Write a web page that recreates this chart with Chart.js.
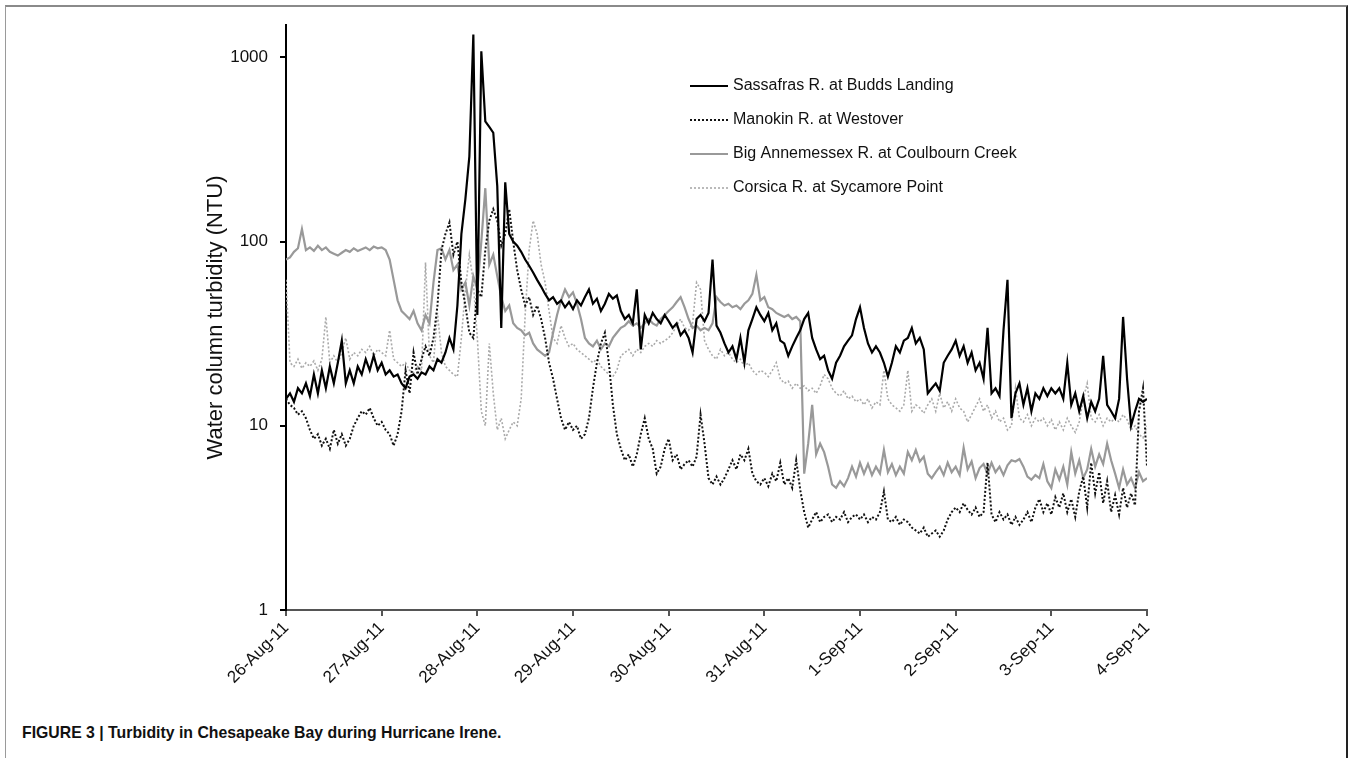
<!DOCTYPE html>
<html>
<head>
<meta charset="utf-8">
<script src="https://cdn.jsdelivr.net/npm/chart.js@4.4.0/dist/chart.umd.min.js"></script>
<style>
  html, body { margin: 0; padding: 0; background: #fff; }
  #frame {
    position: absolute; left: 5px; top: 5px; width: 1340px; height: 760px;
    border-top: 2px solid #8a8a8a; border-left: 1px solid #9a9a9a; border-right: 2px solid #222;
  }
  #wrap { position: absolute; left: 0; top: 0; width: 1349px; height: 700px; }
  #caption {
    position: absolute; left: 22px; top: 723px;
    font-family: "Liberation Sans", Arial, sans-serif;
    font-weight: bold; font-size: 17px; color: #111;
    transform: scaleX(0.93); transform-origin: left top; white-space: nowrap;
  }
</style>
</head>
<body>
<div id="frame"></div>
<div id="wrap"><canvas id="turbidityChart" width="1349" height="700"></canvas></div>
<div id="caption">FIGURE 3 | Turbidity in Chesapeake Bay during Hurricane Irene.</div>
<script>
// hourly readings from 26-Aug-11 00:00 to 4-Sep-11 00:00 (NTU)
const dayLabels = ['26-Aug-11', '27-Aug-11', '28-Aug-11', '29-Aug-11', '30-Aug-11',
  '31-Aug-11', '1-Sep-11', '2-Sep-11', '3-Sep-11', '4-Sep-11'];
const yTicks = [1, 10, 100, 1000];

const seriesNames = ['Sassafras R. at Budds Landing', 'Manokin R. at Westover',
  'Big Annemessex R. at Coulbourn Creek', 'Corsica R. at Sycamore Point'];

const sassafras = [
  14, 15, 13.5, 16, 15, 17, 14.5, 19, 15, 20, 16, 21, 17, 22, 29, 17, 20, 17, 21, 19, 23, 20, 24, 20,
  22, 19, 20, 18.5, 19, 17, 16, 18.5, 19, 18, 19.5, 19, 21, 20, 23, 22, 25, 30, 26, 45, 110, 170, 290, 1330,
  40, 1080, 450, 420, 390, 200, 34, 210, 110, 100, 95, 88, 80, 74, 68, 62, 57, 52, 48, 50, 46, 48, 44, 47,
  43, 48, 45, 50, 55, 46, 49, 42, 46, 52, 49, 51, 42, 38, 40, 36, 55, 26, 40, 36, 41, 38, 36, 40,
  37, 34, 36, 31, 33, 30, 25, 38, 40, 37, 41, 80, 35, 32, 28, 25, 27, 23, 30, 22, 33, 38, 44, 40,
  37, 41, 33, 36, 29, 28, 24, 27, 30, 33, 38, 41, 30, 26, 23, 24, 20, 18, 22, 24, 27, 29, 31, 38,
  44, 34, 28, 25, 27, 25, 22, 18.5, 22, 27, 25, 29, 30, 34, 28, 30, 26, 15, 16, 17, 15.5, 22, 24, 26,
  29, 24, 27, 22, 25, 20, 22, 18, 34, 15, 16, 14.5, 33, 62, 11, 15, 17, 13, 16, 12, 15, 14, 16, 14.5,
  16, 15, 16, 14, 22, 13, 15, 12, 14.5, 11, 13.5, 12, 14, 24, 13, 12, 11, 14, 39, 18, 10, 12, 14, 13.5,
  14
];

const manokin = [
  14, 13, 12.5, 11.5, 12, 11, 9.5, 8.5, 9, 7.8, 8.5, 7.5, 9.5, 8, 9, 7.8, 8.5, 10, 11, 12, 11.5, 12.5, 11, 10,
  10.5, 9.5, 9, 7.8, 9, 12, 20, 15, 25, 19, 23, 27, 24, 30, 45, 90, 110, 127, 85, 100, 60, 45, 32, 30,
  55, 50, 90, 130, 150, 130, 95, 110, 150, 100, 70, 55, 45, 50, 40, 45, 38, 30, 22, 18, 14, 11, 9.5, 10.5,
  9.5, 10, 8.5, 9, 11, 16, 22, 28, 32, 22, 13, 9, 7.5, 6.5, 7, 6, 7, 9, 11, 8.5, 7.5, 5.5, 6, 7.5,
  8.5, 6.5, 7, 5.8, 6.2, 6.5, 6, 6.8, 11.5, 8, 5.2, 4.8, 5.3, 4.8, 5.2, 5.8, 6.5, 5.8, 7, 6.5, 7.5, 5.5, 5, 4.8,
  5.2, 4.7, 5.5, 5, 6.3, 4.8, 5.2, 4.6, 6.5, 4.5, 3.4, 2.8, 3.1, 3.4, 3.0, 3.2, 3.3, 3.0, 3.2, 3.1, 3.4, 3.0, 3.2, 3.3,
  3.1, 3.3, 3.0, 3.2, 3.1, 3.4, 4.4, 3.1, 3.0, 3.2, 2.9, 3.1, 3.0, 2.8, 2.7, 2.6, 2.8, 2.5, 2.6, 2.7, 2.5, 2.7, 3.1, 3.4,
  3.6, 3.4, 3.8, 3.5, 3.3, 3.6, 3.2, 3.4, 6.3, 3.3, 3.0, 3.4, 3.1, 3.3, 2.9, 3.2, 2.9, 3.1, 3.4, 3.0, 3.6, 4.0, 3.4, 3.8,
  3.3, 4.1, 3.6, 4.3, 3.4, 4.0, 3.2, 4.4, 5.3, 3.6, 6.3, 4.3, 5.6, 3.8, 5.0, 3.4, 4.2, 3.3, 4.6, 3.6, 4.3, 3.7, 12, 16,
  6
];

const bigAnnemessex = [
  80, 82, 88, 92, 117, 90, 93, 89, 95, 90, 93, 88, 86, 84, 87, 90, 88, 92, 89, 91, 93, 90, 94, 92,
  93, 90, 80, 62, 48, 42, 40, 38, 42, 36, 33, 40, 36, 60, 90, 92, 80, 90, 70, 75, 55, 60, 45, 65,
  55, 100, 195, 75, 85, 65, 50, 42, 45, 36, 34, 33, 31, 32, 28, 26, 25, 24, 25, 32, 40, 48, 55, 50,
  53, 46, 38, 30, 28, 27, 29, 26, 28, 27, 30, 32, 34, 35, 37, 35, 36, 34, 36, 38, 36, 35, 38, 40,
  42, 44, 47, 50, 44, 38, 34, 35, 33, 34, 33, 36, 50, 47, 45, 46, 44, 45, 43, 46, 48, 52, 66, 48,
  50, 44, 43, 41, 40, 39, 40, 38, 39, 37, 5.5, 8, 13, 7, 8, 7.2, 6, 4.8, 4.6, 5, 4.7, 5.2, 6, 5.3,
  6.3, 5.5, 6.2, 5.4, 6, 5.5, 7.4, 5.6, 6.2, 5.4, 6, 5.5, 7.2, 6.5, 7.4, 6.4, 6.8, 5.5, 5.2, 5.6, 6, 5.4, 6.3, 5.6,
  6, 5.4, 7.6, 5.8, 6.4, 5.2, 5.9, 6.2, 5.5, 6.3, 5.6, 6, 5.4, 6.1, 6.5, 6.4, 6.6, 6, 5.3, 5.1, 5.4, 5.2, 6.2, 5,
  4.6, 5.8, 5.1, 6, 4.8, 7.2, 5.5, 6.5, 5.2, 5.8, 7.5, 6, 7, 6.2, 8, 6.5, 5.5, 4.6, 5.8, 4.8, 5.2, 4.6, 5.6, 5,
  5.2
];

const corsica = [
  62, 22, 21, 23, 20.5, 22, 21, 22.5, 20, 23, 39, 22, 24, 22, 25, 30, 23, 25, 24, 26, 25, 27, 24, 26,
  25, 24, 33, 23, 22, 21, 22, 20, 19.5, 21, 20, 77, 24, 22, 41, 25, 21, 20, 19, 18.5, 30, 55, 85, 60,
  30, 12, 10, 28, 15, 9.5, 11, 8.5, 9.5, 10.5, 10, 14, 40, 90, 130, 110, 75, 60, 42, 30, 28, 35, 30, 27,
  28, 26, 25, 24, 23, 22, 23, 21, 20, 19, 18.5, 20, 24, 25, 26, 24, 26, 25, 27, 28, 27, 29, 28, 29,
  30, 32, 35, 38, 34, 33, 36, 60, 55, 29, 26, 24, 23, 26, 24, 25, 23, 22, 23, 21, 22, 20, 19, 20,
  19.5, 18.5, 20, 22, 18, 17, 17.5, 16, 17, 16, 16.5, 15.5, 16, 15, 16.5, 19, 18, 16, 15, 14.5, 15.5, 14, 14.5, 13.5,
  14, 13, 14, 12.5, 13.5, 13, 20, 14, 13, 12.5, 12, 13, 20, 12, 13, 12.5, 11.7, 13, 14, 12, 15, 12.5, 13.5, 12,
  14, 12.5, 12, 10.5, 11.5, 12.7, 14, 12, 13, 11, 12, 10.5, 11, 9.5, 10, 16, 11, 10.5, 11.5, 10, 11, 10.5, 11, 10,
  10.8, 9.5, 10.5, 9.5, 11, 10, 9.2, 10.5, 14, 17, 11, 10.5, 11.5, 10, 11, 10.5, 11, 10.5, 11.5, 10.8, 9.5, 10, 9, 8.6,
  10
];

const seriesStyles = [
  { color: '#000000', width: 2.2, dash: [] },
  { color: '#111111', width: 2, dash: [2, 2] },
  { color: '#999999', width: 2.2, dash: [] },
  { color: '#aaaaaa', width: 1.6, dash: [2, 2] }
];

function toPoints(values) {
  return values.map((v, i) => ({ x: i, y: v }));
}

// legend drawn inside the plot area, as in the figure
const insideLegend = {
  id: 'insideLegend',
  afterDraw(chart) {
    const ctx = chart.ctx;
    ctx.save();
    ctx.font = '16px "Liberation Sans", Arial, sans-serif';
    ctx.textBaseline = 'middle';
    ctx.fillStyle = '#111';
    seriesNames.forEach((name, i) => {
      const y = 86 + i * 34;
      const st = seriesStyles[i];
      ctx.beginPath();
      ctx.strokeStyle = st.color;
      ctx.lineWidth = st.width;
      ctx.setLineDash(st.dash);
      ctx.moveTo(690, y);
      ctx.lineTo(728, y);
      ctx.stroke();
      ctx.setLineDash([]);
      ctx.fillText(name, 733, y);
    });
    ctx.restore();
  }
};

document.addEventListener('DOMContentLoaded', function () {
  const allSeries = [sassafras, manokin, bigAnnemessex, corsica];
  new Chart(document.getElementById('turbidityChart'), {
    type: 'line',
    data: {
      datasets: allSeries.map((values, i) => ({
        label: seriesNames[i],
        data: toPoints(values),
        borderColor: seriesStyles[i].color,
        borderWidth: seriesStyles[i].width,
        borderDash: seriesStyles[i].dash,
        pointRadius: 0,
        tension: 0,
        fill: false
      }))
    },
    options: {
      responsive: false,
      animation: false,
      devicePixelRatio: 1,
      layout: { padding: { left: 200, top: 25, right: 202, bottom: 0 } },
      plugins: {
        legend: { display: false },
        tooltip: { enabled: false }
      },
      scales: {
        x: {
          type: 'linear',
          min: 0,
          max: (dayLabels.length - 1) * 24,
          afterBuildTicks: (axis) => {
            axis.ticks = dayLabels.map((_, i) => ({ value: i * 24 }));
          },
          afterFit: (axis) => { axis.height = 90; },
          grid: { drawOnChartArea: false, drawTicks: true, tickLength: 6, color: '#555', lineWidth: 2 },
          border: { color: '#555', width: 2 },
          ticks: {
            autoSkip: false,
            maxRotation: 45,
            minRotation: 45,
            padding: 2,
            color: '#111',
            font: { family: '"Liberation Sans", Arial, sans-serif', size: 17 },
            callback: (v) => dayLabels[Math.round(v / 24)]
          }
        },
        y: {
          type: 'logarithmic',
          min: 1,
          max: 1500,
          afterBuildTicks: (axis) => {
            axis.ticks = yTicks.map(v => ({ value: v }));
          },
          afterFit: (axis) => { axis.width = 86; },
          grid: { drawOnChartArea: false, drawTicks: true, tickLength: 6, color: '#000', lineWidth: 2 },
          border: { color: '#000', width: 2 },
          ticks: {
            padding: 12,
            color: '#111',
            font: { family: '"Liberation Sans", Arial, sans-serif', size: 17 },
            callback: (v) => String(v)
          },
          title: {
            display: true,
            text: 'Water column turbidity (NTU)',
            color: '#111',
            padding: 3,
            font: { family: '"Liberation Sans", Arial, sans-serif', size: 22 }
          }
        }
      }
    },
    plugins: [insideLegend]
  });
});
</script>
</body>
</html>
